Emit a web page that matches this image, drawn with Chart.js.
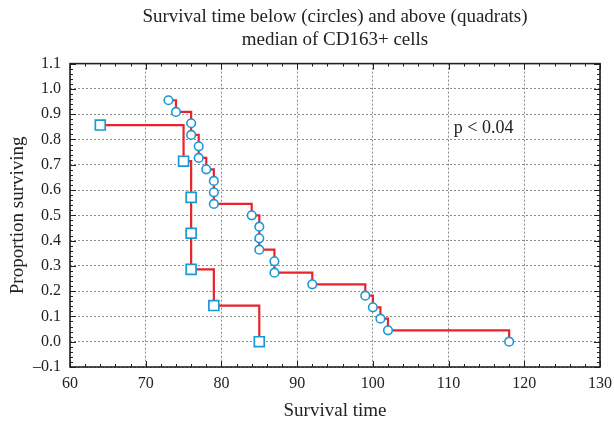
<!DOCTYPE html>
<html>
<head>
<meta charset="utf-8">
<script src="https://cdn.jsdelivr.net/npm/chart.js@4"></script>
<style>
  html, body { margin: 0; padding: 0; background: #fff; }
</style>
</head>
<body>
<canvas id="chart" width="614" height="425"></canvas>
<script>
// -------- DATA --------
// below median (circles)
const lowTimes = [73, 74, 76, 76, 77, 77, 78, 79, 79, 79, 84, 85, 85, 85, 87, 87, 92, 99, 100, 101, 102, 118];
const lowSurvival = [0.955, 0.909, 0.864, 0.818, 0.773, 0.727, 0.682, 0.636, 0.591, 0.545, 0.5,
  0.455, 0.409, 0.364, 0.318, 0.273, 0.227, 0.182, 0.136, 0.091, 0.045, 0.0];

// above median (quadrats)
const highTimes = [64, 75, 76, 76, 76, 79, 85];
const highSurvival = [0.857, 0.714, 0.571, 0.429, 0.286, 0.143, 0.0];

const titleLines = ["Survival time below (circles) and above (quadrats)", "median of CD163+ cells"];
const xTitle = "Survival time";
const yTitle = "Proportion surviving";
const pLabel = "p < 0.04";
const pLabelAt = [110.7, 0.846];

const FONT = '"Liberation Serif", "DejaVu Serif", serif';
const RED = "#e8232b";
const BLUE = "#1b98d6";

// -------- PLUGIN: frame, inner ticks, p-value --------
const framePlugin = {
  id: "frame",
  afterDatasetsDraw(chart) {
    const { ctx, chartArea: a, scales: { x, y } } = chart;
    ctx.save();
    ctx.strokeStyle = "#222";
    ctx.lineWidth = 1;
    ctx.beginPath();
    // x ticks every 2, major every 10
    for (let i = 0; i <= 35; i++) {
      const px = Math.round(x.getPixelForValue(60 + 2 * i)) + 0.5;
      const len = i % 5 === 0 ? 6 : 3;
      ctx.moveTo(px, a.bottom); ctx.lineTo(px, a.bottom - len);
      ctx.moveTo(px, a.top); ctx.lineTo(px, a.top + len);
    }
    // y ticks every 0.02, major every 0.1
    for (let i = 0; i <= 60; i++) {
      const py = Math.round(y.getPixelForValue(-0.1 + 0.02 * i)) + 0.5;
      const len = i % 5 === 0 ? 6 : 3;
      ctx.moveTo(a.left, py); ctx.lineTo(a.left + len, py);
      ctx.moveTo(a.right, py); ctx.lineTo(a.right - len, py);
    }
    ctx.stroke();

    ctx.lineWidth = 1.6;
    ctx.strokeRect(a.left, a.top, a.right - a.left, a.bottom - a.top);

    ctx.fillStyle = "#222";
    ctx.font = "18px " + FONT;
    ctx.textAlign = "left";
    ctx.textBaseline = "middle";
    ctx.fillText(pLabel, x.getPixelForValue(pLabelAt[0]), y.getPixelForValue(pLabelAt[1]));
    ctx.restore();
  }
};

// -------- CHART --------
const toPoints = (xs, ys) => xs.map((v, i) => ({ x: v, y: ys[i] }));

new Chart(document.getElementById("chart"), {
  type: "line",
  data: {
    datasets: [
      {
        label: "below median",
        data: toPoints(lowTimes, lowSurvival),
        stepped: true,
        borderColor: RED,
        borderWidth: 2.2,
        pointStyle: "circle",
        pointRadius: 4.3,
        pointBorderWidth: 1.6,
        pointBorderColor: BLUE,
        pointBackgroundColor: "#fff"
      },
      {
        label: "above median",
        data: toPoints(highTimes, highSurvival),
        stepped: true,
        borderColor: RED,
        borderWidth: 2.2,
        pointStyle: "rect",
        pointRadius: 7,
        pointBorderWidth: 1.7,
        pointBorderColor: BLUE,
        pointBackgroundColor: "#fff"
      }
    ]
  },
  options: {
    responsive: false,
    animation: false,
    devicePixelRatio: 1,
    layout: { padding: { left: 0, right: 14, top: 0, bottom: 0 } },
    plugins: {
      legend: { display: false },
      tooltip: { enabled: false },
      title: {
        display: true,
        text: titleLines,
        fullSize: false,
        color: "#222",
        font: { family: FONT, size: 19, weight: "normal", lineHeight: 1.2 },
        padding: { top: 6, bottom: 12 }
      }
    },
    scales: {
      x: {
        type: "linear",
        min: 60, max: 130,
        ticks: { stepSize: 10, color: "#222", padding: 7, font: { family: FONT, size: 16 } },
        grid: { color: "#8a8a8a", lineWidth: 1, drawTicks: false },
        border: { display: false, dash: [2, 2] },
        title: { display: true, text: xTitle, color: "#222", font: { family: FONT, size: 19 }, padding: { top: 0, bottom: 3 } },
        afterFit(scale) {
          scale.height = 58;
          scale.paddingLeft = 0;
          scale.paddingRight = 0;
        }
      },
      y: {
        min: -0.1, max: 1.1,
        ticks: {
          stepSize: 0.1, color: "#222", padding: 9, font: { family: FONT, size: 16 },
          callback: v => v.toFixed(1).replace("-", "\u2013")
        },
        grid: { color: "#8a8a8a", lineWidth: 1, drawTicks: false },
        border: { display: false, dash: [2, 2] },
        title: { display: true, text: yTitle, color: "#222", font: { family: FONT, size: 19 }, padding: { top: 7, bottom: 0 } },
        afterFit(scale) {
          scale.width = 70;
          scale.paddingTop = 0;
          scale.paddingBottom = 0;
        }
      }
    }
  },
  plugins: [framePlugin]
});
</script>
</body>
</html>
